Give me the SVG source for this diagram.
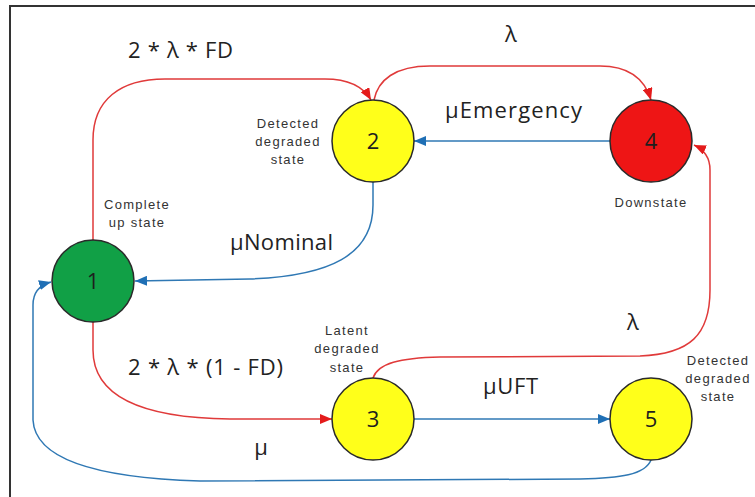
<svg xmlns="http://www.w3.org/2000/svg" width="755" height="497" viewBox="0 0 755 497">
<style>
.node{stroke:#2a2a2a;stroke-width:1.5}
.num{font-family:"Open Sans","Liberation Sans",sans-serif;font-size:22px;fill:#1e1e1e;text-anchor:middle}
.lbl{font-family:"Open Sans","Liberation Sans",sans-serif;font-size:22px;fill:#222}
.small{font-family:"Liberation Sans",Arial,sans-serif;font-size:13px;letter-spacing:1.3px;fill:#333;text-anchor:middle}
.red{fill:none;stroke:#e03a3a;stroke-width:1.5}
.blue{fill:none;stroke:#2f78b4;stroke-width:1.5}
</style>
<defs>
<marker id="ar" viewBox="0 0 12 10" refX="12" refY="5" markerWidth="12" markerHeight="10" markerUnits="userSpaceOnUse" orient="auto"><path d="M0,0 L12,5 L0,10 z" fill="#e41b1b"/></marker>
<marker id="ab" viewBox="0 0 12 10" refX="12" refY="5" markerWidth="12" markerHeight="10" markerUnits="userSpaceOnUse" orient="auto"><path d="M0,0 L12,5 L0,10 z" fill="#1f6fb5"/></marker>
</defs>
<rect width="755" height="497" fill="#fff"/>
<path d="M9,6 L755,6 M10,6 L10,497" fill="none" stroke="#333" stroke-width="2"/>
<g id="connectors">
<path class="red" d="M93,240 L93,140 C93,100 120,79 165,79 L325,79 C350,79 364,88 371,100" marker-end="url(#ar)"/>
<path class="red" d="M374,100 C378,80 395,66 430,66 L600,66 C630,66 645,80 651,100" marker-end="url(#ar)"/>
<path class="blue" d="M610,141 L414,141" marker-end="url(#ab)"/>
<path class="blue" d="M373,182 L373,205 C373,255 330,276 250,279 L135,281" marker-end="url(#ab)"/>
<path class="red" d="M93,322 L93,350 C93,395 140,418 230,419 L332,419" marker-end="url(#ar)"/>
<path class="red" d="M373,378 C378,363 400,358 440,357 L640,356 C690,354 710,335 710,290 L710,170 C710,158 705,150 694,145" marker-end="url(#ar)"/>
<path class="blue" d="M414,419 L610,419" marker-end="url(#ab)"/>
<path class="blue" d="M651,460 C645,475 620,478 580,479 L200,481 C100,478 35,460 33,420 L33,305 C33,292 40,285 51,282" marker-end="url(#ab)"/>
</g>
<g id="labels">
<text class="lbl" x="128" y="58" textLength="105">2 * λ * FD</text>
<text class="lbl" x="511" y="42" text-anchor="middle">λ</text>
<text class="lbl" x="445" y="118" textLength="137">μEmergency</text>
<text class="lbl" x="230" y="250" textLength="103">μNominal</text>
<text class="lbl" x="128" y="375" textLength="155">2 * λ * (1 - FD)</text>
<text class="lbl" x="261" y="455" text-anchor="middle">μ</text>
<text class="lbl" x="633" y="330" text-anchor="middle">λ</text>
<text class="lbl" x="483" y="394" textLength="55">μUFT</text>
</g>
<g id="node1">
<circle class="node" cx="93" cy="281" r="41" fill="#11a046"/>
<text class="num" x="93" y="289">1</text>
<text class="small" x="137" y="209">Complete</text>
<text class="small" x="137" y="227">up state</text>
</g>
<g id="node2">
<circle class="node" cx="373" cy="141" r="41" fill="#ffff1a"/>
<text class="num" x="373" y="149">2</text>
<text class="small" x="288" y="128">Detected</text>
<text class="small" x="288" y="146">degraded</text>
<text class="small" x="288" y="164">state</text>
</g>
<g id="node3">
<circle class="node" cx="373" cy="419" r="41" fill="#ffff1a"/>
<text class="num" x="373" y="427">3</text>
<text class="small" x="347" y="335">Latent</text>
<text class="small" x="347" y="353">degraded</text>
<text class="small" x="347" y="372">state</text>
</g>
<g id="node4">
<circle class="node" cx="651" cy="141" r="41" fill="#ee1515"/>
<text class="num" x="651" y="149">4</text>
<text class="small" x="651" y="207">Downstate</text>
</g>
<g id="node5">
<circle class="node" cx="651" cy="419" r="41" fill="#ffff1a"/>
<text class="num" x="651" y="427">5</text>
<text class="small" x="718" y="365">Detected</text>
<text class="small" x="718" y="383">degraded</text>
<text class="small" x="718" y="401">state</text>
</g>
</svg>
